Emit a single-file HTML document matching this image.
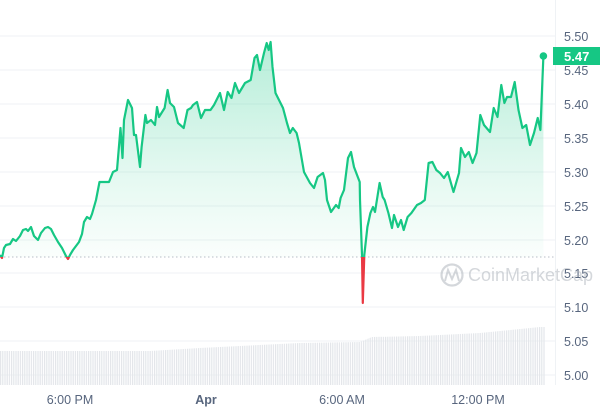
<!DOCTYPE html>
<html><head><meta charset="utf-8"><style>
html,body{margin:0;padding:0;background:#fff;}
svg{display:block;font-family:"Liberation Sans",sans-serif;}
</style></head><body>
<svg width="600" height="413" viewBox="0 0 600 413" xmlns="http://www.w3.org/2000/svg">
<defs>
<linearGradient id="fg" gradientUnits="userSpaceOnUse" x1="0" y1="40" x2="0" y2="257">
<stop offset="0" stop-color="#16c784" stop-opacity="0.32"/>
<stop offset="0.6" stop-color="#16c784" stop-opacity="0.12"/>
<stop offset="1" stop-color="#16c784" stop-opacity="0.02"/>
</linearGradient>
<pattern id="bars" width="2.2" height="10" patternUnits="userSpaceOnUse">
<rect x="0" y="0" width="1.2" height="10" fill="#e3e6ea"/>
</pattern>
<clipPath id="above"><rect x="0" y="0" width="600" height="257"/></clipPath>
<clipPath id="below"><rect x="0" y="257" width="600" height="200"/></clipPath>
</defs>
<g stroke="#eff2f5" stroke-width="1">
<line x1="0" y1="36" x2="555" y2="36"/><line x1="0" y1="70" x2="555" y2="70"/>
<line x1="0" y1="104" x2="555" y2="104"/><line x1="0" y1="138" x2="555" y2="138"/>
<line x1="0" y1="172" x2="555" y2="172"/><line x1="0" y1="206" x2="555" y2="206"/>
<line x1="0" y1="240" x2="555" y2="240"/><line x1="0" y1="273" x2="555" y2="273"/>
<line x1="0" y1="307" x2="555" y2="307"/><line x1="0" y1="341" x2="555" y2="341"/>
<line x1="0" y1="375" x2="555" y2="375"/>
<line x1="555.5" y1="0" x2="555.5" y2="385"/>
</g>
<polygon fill="url(#bars)" points="0,351 150,351 200,348 300,343 360,342 372,337 420,336 480,333 540,327 545,327 545,385 0,385"/>
<line x1="0" y1="257" x2="555" y2="257" stroke="#b8bec7" stroke-width="1" stroke-dasharray="1.5,2.5"/>
<g font-size="12.5" fill="#58667e">
<text x="564" y="41">5.50</text><text x="564" y="109">5.40</text>
<text x="564" y="143">5.35</text><text x="564" y="177">5.30</text><text x="564" y="211">5.25</text>
<text x="564" y="245">5.20</text><text x="564" y="278">5.15</text><text x="564" y="312">5.10</text>
<text x="564" y="346">5.05</text><text x="564" y="380">5.00</text><text x="564" y="75">5.45</text>
<text x="70" y="404" text-anchor="middle">6:00 PM</text>
<text x="206" y="404" text-anchor="middle" font-weight="bold">Apr</text>
<text x="342" y="404" text-anchor="middle">6:00 AM</text>
<text x="478" y="404" text-anchor="middle">12:00 PM</text>
</g>
<g opacity="0.5">
<circle cx="452" cy="275" r="10.5" fill="none" stroke="#aab0b8" stroke-width="2.2"/>
<path d="M445,281 L448,270 L452,279 L456,270 L459,281" fill="none" stroke="#aab0b8" stroke-width="2"/>
<text x="468" y="281" font-size="18" fill="#aab0b8">CoinMarketCap</text>
</g>
<g>
<polygon clip-path="url(#above)" fill="url(#fg)" points="0,257 0,255 2,258 4,248 6,245 10,244 13,239 16,241 20,236 23,230 26,229 28,231 31,227 34,236 38,240 41,233 45,228 48,227 51,229 54,235 58,242 62,248 66,256 68,259 70,255 73,250 76,246 79,242 82,234 84,222 87,217 90,219 92,214 96,200 99.5,182 109,182 113,172 117,170 120.5,128 122.5,158 124,120 128,100 132,108 134,135 136,135 140,167 141.6,147 145.4,115 147,123 151,120 155,125 157,107 159,117 164.6,108 167.6,90 170,103 174,107 178,123 183.7,128 187.5,110 191,108 193,105 197,102 201,118 205,110 210.5,110 214,105 220,93 224,110 227.7,92 231.5,98 235,83 239,93 245,83 250.7,80 254.5,58 257,55 260,70 264,53 266.7,43 268.7,50 270.6,42 272.5,67 275.5,93 279,100 283,108 287,123 290,133 292.8,128 296.6,133 299,143 304,172 310,183 314,188 317.6,177 323,173 325,180 327,200 331,212 336,205 338.7,208 340.6,198 344,190 348,158 351,152 354,167 357.8,177 359.7,182 360,200 362,255 362.8,303 364.3,255 367.4,227 370.4,213 373,207 375,212 379.6,183 382.7,197 384.6,200 388.4,213 392,228 394,215 398,227 401,220 403.7,230 407.6,217 411.4,213 417,205 421,203 424.8,200 428.6,163 432.4,162 436.3,170 440,173 444,178 447.8,172 453.5,192 459,173 461,148 465,157 468.8,152 472.6,163 476.5,153 480.3,115 484,125 490,132 493.7,108 497.5,117 501.3,85 504.4,103 507,97 511,97 514.7,82 518.5,110 522.4,128 526.2,125 530,145 534,133 537.7,118 540.4,130 543.4,56 543.4,257"/>
<polyline id="ln" fill="none" stroke-width="2.2" stroke-linejoin="round" points="0,255 2,258 4,248 6,245 10,244 13,239 16,241 20,236 23,230 26,229 28,231 31,227 34,236 38,240 41,233 45,228 48,227 51,229 54,235 58,242 62,248 66,256 68,259 70,255 73,250 76,246 79,242 82,234 84,222 87,217 90,219 92,214 96,200 99.5,182 109,182 113,172 117,170 120.5,128 122.5,158 124,120 128,100 132,108 134,135 136,135 140,167 141.6,147 145.4,115 147,123 151,120 155,125 157,107 159,117 164.6,108 167.6,90 170,103 174,107 178,123 183.7,128 187.5,110 191,108 193,105 197,102 201,118 205,110 210.5,110 214,105 220,93 224,110 227.7,92 231.5,98 235,83 239,93 245,83 250.7,80 254.5,58 257,55 260,70 264,53 266.7,43 268.7,50 270.6,42 272.5,67 275.5,93 279,100 283,108 287,123 290,133 292.8,128 296.6,133 299,143 304,172 310,183 314,188 317.6,177 323,173 325,180 327,200 331,212 336,205 338.7,208 340.6,198 344,190 348,158 351,152 354,167 357.8,177 359.7,182 360,200 362,255 362.8,303 364.3,255 367.4,227 370.4,213 373,207 375,212 379.6,183 382.7,197 384.6,200 388.4,213 392,228 394,215 398,227 401,220 403.7,230 407.6,217 411.4,213 417,205 421,203 424.8,200 428.6,163 432.4,162 436.3,170 440,173 444,178 447.8,172 453.5,192 459,173 461,148 465,157 468.8,152 472.6,163 476.5,153 480.3,115 484,125 490,132 493.7,108 497.5,117 501.3,85 504.4,103 507,97 511,97 514.7,82 518.5,110 522.4,128 526.2,125 530,145 534,133 537.7,118 540.4,130 543.4,56"/>
<use href="#ln" stroke="#16c784" clip-path="url(#above)"/>
<use href="#ln" stroke="#ea3943" clip-path="url(#below)"/>
<circle cx="543.4" cy="56" r="3.8" fill="#16c784"/>
</g>
<rect x="553" y="47" width="47" height="18" fill="#16c784"/>
<text x="564" y="61" font-size="13" font-weight="bold" fill="#fff">5.47</text>
</svg>
</body></html>
